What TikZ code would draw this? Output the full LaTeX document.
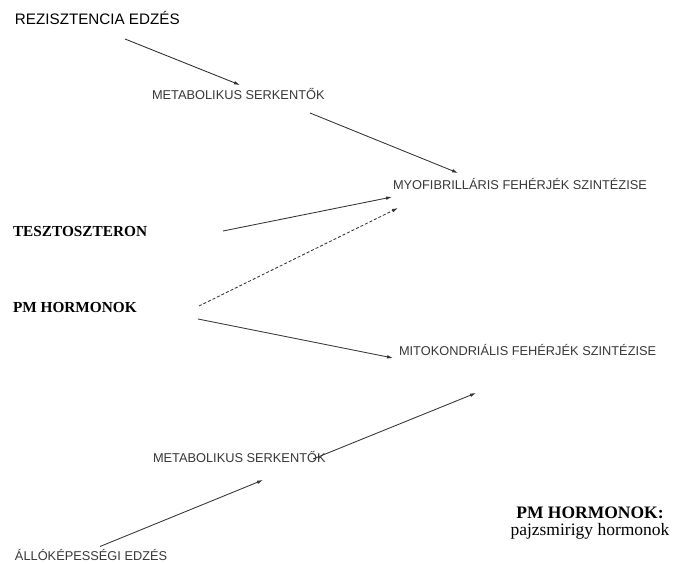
\documentclass[tikz,border=0pt]{standalone}
\usepackage{fontspec}
\setmainfont{Liberation Serif}
\newfontfamily\arialf{Liberation Sans}
\usetikzlibrary{arrows.meta}

\tikzset{
  lbl/.style={inner sep=0pt, outer sep=0pt, anchor=base west},
  sanslbl/.style={lbl, text=black!78, font=\arialf\fontsize{12.8}{14}\selectfont},
  headlbl/.style={lbl, text=black, font=\arialf\fontsize{15.2}{17}\selectfont},
  seriflbl/.style={lbl, text=black, font=\bfseries\fontsize{15.3}{17}\selectfont},
  link/.style={draw=black!80, line width=0.85pt,
    -{Latex[length=6pt,width=3.6pt]}},
  dottedlink/.style={link, dash pattern=on 3pt off 2pt}
}

\begin{document}
\begin{tikzpicture}[x=1pt,y=-1pt]
  \useasboundingbox (0,0) rectangle (681,564);
  \fill[white] (0,0) rectangle (681,564);

  % labels
  \node[headlbl]  (rez)  at (15,25)  {REZISZTENCIA EDZÉS};
  \node[sanslbl]  (met1) at (152,100) {METABOLIKUS SERKENTŐK};
  \node[sanslbl]  (myo)  at (393,190) {MYOFIBRILLÁRIS FEHÉRJÉK SZINTÉZISE};
  \node[seriflbl] (tesz) at (13,237) {TESZTOSZTERON};
  \node[seriflbl] (pm)   at (13,313) {PM HORMONOK};
  \node[sanslbl]  (mito) at (399,356) {MITOKONDRIÁLIS FEHÉRJÉK SZINTÉZISE};
  \node[sanslbl]  (met2) at (153,463) {METABOLIKUS SERKENTŐK};
  \node[sanslbl]  (allo) at (15,560.5) {ÁLLÓKÉPESSÉGI EDZÉS};
  \node[inner sep=0pt, align=center, anchor=base, font=\fontsize{17.5}{16.7}\selectfont]
    (key) at (590,535) {\textbf{PM HORMONOK:}\\pajzsmirigy hormonok};

  % connector end points
  \coordinate (rez-o)   at (125,39);
  \coordinate (met1-i)  at (240,85);
  \coordinate (met1-o)  at (310,113);
  \coordinate (myo-i1)  at (458,173);
  \coordinate (tesz-o)  at (223,231);
  \coordinate (myo-i2)  at (392,197);
  \coordinate (pm-o1)   at (199,306);
  \coordinate (myo-i3)  at (398,208);
  \coordinate (pm-o2)   at (198,319);
  \coordinate (mito-i1) at (393,358);
  \coordinate (allo-o)  at (100,546.5);
  \coordinate (met2-i)  at (263,480);
  \coordinate (met2-o)  at (313,459);
  \coordinate (mito-i2) at (476,393);

  % connectors
  \draw[link] (rez-o) -- (met1-i);
  \draw[link] (met1-o) -- (myo-i1);
  \draw[link] (tesz-o) -- (myo-i2);
  \draw[dottedlink] (pm-o1) -- (myo-i3);
  \draw[link] (pm-o2) -- (mito-i1);
  \draw[link] (allo-o) -- (met2-i);
  \draw[link] (met2-o) -- (mito-i2);
\end{tikzpicture}
\end{document}
